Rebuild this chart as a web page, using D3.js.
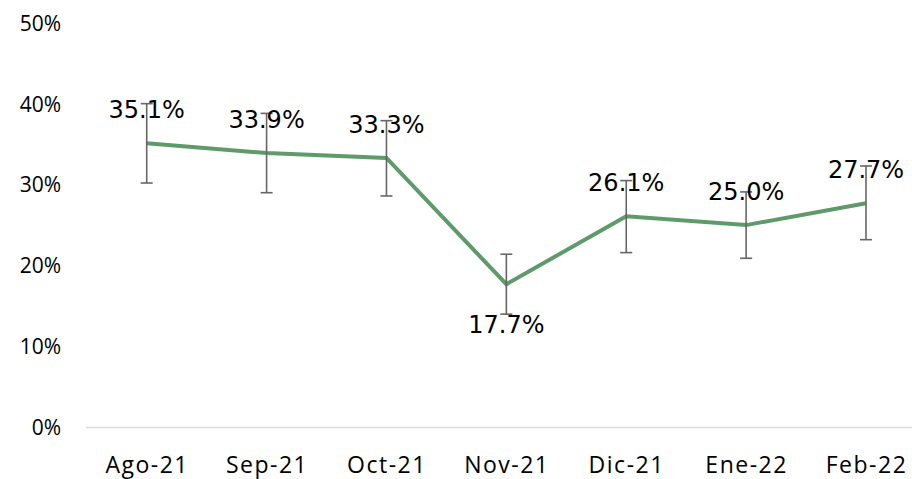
<!DOCTYPE html>
<html>
<head>
<meta charset="utf-8">
<script src="https://cdn.jsdelivr.net/npm/d3@7"></script>
<style>
  body { margin: 0; background: #fff; }
  svg { display: block; }
</style>
</head>
<body>
<div id="chart"></div>
<script>
// datos
const meses = ["Ago-21", "Sep-21", "Oct-21", "Nov-21", "Dic-21", "Ene-22", "Feb-22"];
const valores = [35.1, 33.9, 33.3, 17.7, 26.1, 25.0, 27.7];
const errorAlto = [40.0, 38.8, 37.9, 21.4, 30.5, 29.1, 32.3];
const errorBajo = [30.2, 29.0, 28.6, 14.0, 21.6, 20.9, 23.2];
const posEtiqueta = ["above", "above", "above", "below", "above", "above", "above"];
const ticksY = [0, 10, 20, 30, 40, 50];

const width = 912, height = 479;

let svg = d3.select("#chart").append("svg")
  .attr("width", width)
  .attr("height", height);

let x = d3.scalePoint()
  .domain(meses)
  .range([146.7, 866])

let y = d3.scaleLinear()
  .domain([0, 50])
  .range([427.5, 22.7]);

// eje x (linea base)
svg.append("line")
  .attr("x1", 86).attr("x2", width)
  .attr("y1", y(0)).attr("y2", y(0))
  .attr("stroke", "#d9d9d9")
  .attr("stroke-width", 1.5);

let axisX = d3.axisBottom(x).tickSize(0).tickPadding(0);
let gx = svg.append("g")
  .attr("transform", `translate(0,${y(0)})`)
  .call(axisX);
gx.select(".domain").remove();
gx.selectAll("text")
  .attr("y", 45)
  .attr("dy", 0)
  .attr("fill", "#000")
  .style("font-family", "'Open Sans', sans-serif")
  .style("font-size", "23px")
  .style("letter-spacing", "1.5px");

// eje y
let axisY = d3.axisLeft(y).tickValues(ticksY).tickFormat(d => d + "%").tickSize(0).tickPadding(0);
let gy = svg.append("g")
  .attr("transform", "translate(61,0)")
  .call(axisY);
gy.select(".domain").remove();
gy.selectAll("text")
  .attr("x", 0)
  .attr("dy", "0.35em")
  .attr("fill", "#000")
  .style("font-family", "'Open Sans', sans-serif")
  .style("font-size", "21px");

let datos = meses.map((m, i) => ({
  mes: m, valor: valores[i], alto: errorAlto[i], bajo: errorBajo[i], pos: posEtiqueta[i]
}));

// linea
let linea = d3.line()
  .x(d => x(d.mes))
  .y(d => y(d.valor));

svg.append("path")
  .datum(datos)
  .attr("d", linea)
  .attr("fill", "none")
  .attr("stroke", "#5e9a6a")
  .attr("stroke-width", 4)
  .attr("stroke-linejoin", "miter");

// barras de error
let err = svg.append("g")
  .attr("stroke", "#666")
  .attr("stroke-width", 1.6);
err.selectAll("line.v").data(datos).enter().append("line")
  .attr("class", "v")
  .attr("x1", d => x(d.mes)).attr("x2", d => x(d.mes))
  .attr("y1", d => y(d.alto)).attr("y2", d => y(d.bajo));
err.selectAll("line.t").data(datos).enter().append("line")
  .attr("class", "t")
  .attr("x1", d => x(d.mes) - 6).attr("x2", d => x(d.mes) + 6)
  .attr("y1", d => y(d.alto)).attr("y2", d => y(d.alto));
err.selectAll("line.b").data(datos).enter().append("line")
  .attr("class", "b")
  .attr("x1", d => x(d.mes) - 6).attr("x2", d => x(d.mes) + 6)
  .attr("y1", d => y(d.bajo)).attr("y2", d => y(d.bajo));

// etiquetas de datos
svg.append("g").selectAll("text").data(datos).enter().append("text")
  .attr("x", d => x(d.mes))
  .attr("y", d => d.pos === "above" ? y(d.valor) - 25 : y(d.valor) + 49)
  .attr("text-anchor", "middle")
  .attr("fill", "#000")
  .style("font-family", "'DejaVu Sans', sans-serif")
  .style("font-size", "24px")
  .text(d => d.valor.toFixed(1) + "%");
</script>
</body>
</html>
